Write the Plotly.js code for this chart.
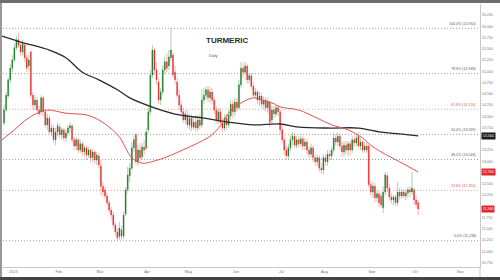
<!DOCTYPE html>
<html>
<head>
<meta charset="utf-8">
<script src="https://cdn.plot.ly/plotly-3.0.1.min.js"></script>
<style>html,body{margin:0;padding:0;background:#fff;}#chart{width:500px;height:280px;}</style>
</head>
<body>
<div id="chart"></div>
<script>
// ---------- data ----------
const firstTradingDay = '2022-12-26';

const opens = [13850,14140,14450,14810,15070,15250,15520,15700,15580,15430,
15580,15300,15120,15430,14470,14250,14360,14140,14100,14410,
14100,13810,13960,13650,13740,13480,13650,13760,13590,13700,
13520,13630,13740,13790,13480,13340,13480,13250,13390,13210,
13300,13140,13250,13080,13210,13030,13120,12900,12450,12370,
12230,12080,11920,11810,11590,11430,11340,11480,11340,11830,
12370,12680,12850,13300,13590,12990,13250,13100,13320,13300,
13700,14100,14920,15470,15030,14760,14360,14540,15030,15210,
15120,15300,15360,14980,14760,14470,14250,14100,13920,14030,
13810,13960,13760,13870,13740,13920,13810,14360,14470,14590,
14410,14540,14360,14140,13920,14100,13870,13740,13960,13810,
14010,14270,14100,14320,14190,14700,15070,14980,15120,14810,
14900,14670,14470,14540,14360,14450,14270,14360,14190,14320,
13920,14140,14050,14190,14100,13700,13480,13250,13120,13300,
13480,13560,13360,13480,13390,13500,13340,13430,13250,13160,
13300,13080,12990,13080,12850,12810,13080,12990,13160,13120,
13250,13520,13430,13560,13340,13210,13360,13250,13390,13250,
13480,13410,13560,13340,13430,13250,13340,13340,12480,12320,
12450,12190,12280,12230,11970,12320,12680,12410,12210,12140,
12210,12080,12320,12230,12320,12230,12300,12370,12320,12370,
12140,12080];

const highs = [14250,14540,14870,15160,15360,15610,15780,15850,15650,15700,
15630,15360,15360,15470,14540,14470,14430,14230,14470,14450,
14140,14050,14030,13830,13810,13740,13870,13830,13760,13740,
13700,13810,13870,13830,13540,13540,13520,13480,13450,13360,
13360,13320,13300,13280,13250,13210,13190,13030,12540,12450,
12300,12140,11990,11880,11650,11520,11650,11570,11880,12430,
12880,12960,13430,13590,13630,13360,13410,13410,13480,13740,
14190,15030,15580,15520,15210,14850,14630,15140,15320,15410,
15470,15954,15430,15120,14850,14590,14360,14190,14140,14140,
14050,14050,13960,14030,14010,14050,14590,14630,14670,14670,
14650,14630,14430,14230,14190,14190,13960,14050,14050,14140,
14360,14360,14410,14410,14810,15210,15180,15210,15160,14960,
14960,14760,14630,14590,14540,14520,14430,14430,14410,14360,
14230,14230,14250,14250,14140,13790,13540,13340,13390,13590,
13650,13630,13560,13560,13560,13560,13520,13500,13340,13390,
13360,13160,13140,13140,12960,13160,13160,13250,13250,13320,
13630,13610,13650,13610,13430,13450,13450,13450,13450,13560,
13560,13610,13650,13520,13480,13430,13430,13390,12590,12540,
12520,12370,12340,12300,12450,12770,12740,12500,12300,12250,
12250,12540,12410,12390,12390,12370,12430,12450,12770,12430,
12230,12140];

const lows = [13810,14100,14410,14740,14980,15210,15470,15520,15340,15360,
15210,14980,15030,14410,14140,14140,14100,13990,14030,14010,
13740,13700,13610,13560,13410,13360,13560,13520,13480,13430,
13450,13560,13630,13410,13250,13250,13190,13190,13120,13100,
13030,13080,12990,12990,12940,12920,12850,12250,12230,12170,
12010,11850,11700,11520,11340,11238,11260,11260,11280,11790,
12300,12540,12810,13210,12920,12900,12990,13030,13140,13250,
13630,14030,14850,14920,14700,14270,14250,14470,14940,14980,
15030,15210,14850,14720,14410,14140,14010,13850,13830,13740,
13700,13670,13700,13650,13670,13700,13740,14270,14360,14320,
14300,14270,14050,13830,13830,13790,13650,13670,13700,13740,
13920,13960,14010,14100,14140,14630,14850,14900,14720,14720,
14590,14410,14390,14270,14230,14190,14140,14100,14070,13760,
13830,13960,13990,14010,13610,13390,13140,13030,13050,13230,
13360,13300,13280,13300,13320,13250,13250,13160,13080,13080,
12990,12900,12900,12770,12720,12720,12900,12900,13030,13030,
13190,13340,13340,13250,13100,13120,13160,13120,13140,13190,
13320,13340,13300,13250,13190,13190,13190,12410,12230,12190,
12080,12100,11990,11970,11850,12250,12320,12120,12050,12030,
12010,12010,12140,12170,12170,12140,12190,12210,12250,12030,
11970,11810];

const closes = [14140,14470,14810,15070,15250,15520,15700,15580,15430,15610,
15300,15070,15250,14470,14250,14360,14140,14050,14410,14100,
13810,13960,13650,13740,13480,13650,13790,13590,13700,13520,
13630,13740,13790,13480,13340,13480,13250,13390,13210,13300,
13140,13250,13080,13210,13030,13140,12920,12450,12320,12230,
12080,11920,11810,11590,11430,11300,11520,11340,11810,12370,
12700,12850,13300,13480,12990,13250,13080,13320,13250,13650,
14100,14920,15470,15030,14810,14360,14540,15030,15210,15070,
15320,15470,14920,14810,14470,14250,14100,13920,14050,13810,
13960,13760,13870,13740,13920,13790,14360,14470,14590,14410,
14540,14360,14140,13920,14100,13870,13740,13960,13810,14030,
14270,14100,14320,14190,14700,15070,14980,15120,14810,14900,
14670,14470,14540,14360,14450,14270,14360,14190,14320,13870,
14140,14050,14190,14100,13700,13480,13250,13120,13300,13480,
13560,13360,13480,13390,13500,13340,13430,13250,13160,13300,
13080,12990,13080,12850,12810,13080,12990,13160,13120,13250,
13520,13430,13560,13340,13210,13360,13250,13390,13250,13480,
13410,13520,13340,13430,13250,13340,13250,12480,12320,12450,
12190,12280,12080,12030,12320,12700,12410,12210,12140,12210,
12080,12320,12230,12320,12230,12300,12370,12320,12410,12140,
12050,11940];

// 200-day simple moving average (black line), read at sample dates
const smaDates = ['2022-12-23','2023-01-05','2023-01-25','2023-02-06','2023-02-16','2023-02-28',
'2023-03-13','2023-03-21','2023-04-06','2023-04-24','2023-05-10','2023-05-26','2023-06-13',
'2023-06-30','2023-07-13','2023-08-04','2023-08-23','2023-09-07','2023-09-20','2023-10-03'];
const smaValues = [15780,15650,15470,15300,14980,14810,14590,14410,14190,14030,13960,13870,13810,
13830,13760,13740,13740,13650,13610,13564];

// short exponential moving average (red line), read at sample dates
const emaDates = ['2022-12-23','2023-01-02','2023-01-09','2023-01-17','2023-01-24','2023-02-06',
'2023-02-20','2023-02-28','2023-03-07','2023-03-14','2023-03-22','2023-03-29','2023-04-06',
'2023-04-14','2023-04-28','2023-05-08','2023-05-15','2023-05-22','2023-05-26','2023-06-02',
'2023-06-13','2023-06-19','2023-06-26','2023-06-30','2023-07-13','2023-07-26','2023-08-04',
'2023-08-16','2023-08-25','2023-08-31','2023-09-07','2023-09-20','2023-10-03'];
const emaValues = [13480,13700,13900,14070,14140,14070,14030,13920,13760,13540,13080,12960,13010,
13100,13300,13430,13560,13790,14070,14270,14410,14360,14300,14210,14140,13960,13810,
13700,13520,13360,13210,12990,12764];

// Fibonacci retracement levels
const fibLabels = ['100.0% (15,954)','78.6% (14,948)','61.8% (14,156)','50.0% (13,599)',
'38.2% (13,043)','23.6% (12,355)','0.0% (11,238)'];
const fibLevels = [15954,14948,14156,13599,13043,12355,11238];

// x-axis month ticks
const monthTickDates = ['2023-01-02','2023-02-01','2023-03-01','2023-04-03','2023-05-01','2023-06-01',
'2023-07-03','2023-08-01','2023-09-01','2023-10-02','2023-11-01'];
const monthTickLabels = ['2023','Feb','Mar','Apr','May','Jun','Jul','Aug','Sep','Oct','Nov'];

// price-axis tick values (every 250)
const priceTicks = [10750,11000,11250,11500,11750,12000,12250,12500,12750,13000,13250,13500,
13750,14000,14250,14500,14750,15000,15250,15500,15750,16000,16250];

// ---------- build ----------
function tradingDays(start, n) {
  const out = [];
  const d = new Date(start + 'T12:00:00Z');
  while (out.length < n) {
    const wd = d.getUTCDay();
    if (wd !== 0 && wd !== 6) out.push(d.toISOString().slice(0, 10) + ' 12:00');
    d.setUTCDate(d.getUTCDate() + 1);
  }
  return out;
}
const dates = tradingDays(firstTradingDay, closes.length);
const noon = a => a.map(s => s + ' 12:00');

const fibStyle = ['grey','grey','red','grey','grey','red','grey'];
const styleColors = {
  grey: {line: '#9a9a9a', text: '#5a5a5a'},
  red:  {line: '#eaa2a2', text: '#e05a5a'}
};

const traces = [
  { type: 'candlestick', x: dates, open: opens, high: highs, low: lows, close: closes,
    increasing: {line: {color: 'rgba(70,150,80,0.45)', width: 1}, fillcolor: 'rgba(70,150,80,0.45)'},
    decreasing: {line: {color: 'rgba(235,100,100,0.45)', width: 1}, fillcolor: 'rgba(235,100,100,0.45)'},
    hoverinfo: 'skip', showlegend: false },
  { type: 'candlestick', x: dates, open: opens, high: highs, low: lows, close: closes,
    increasing: {line: {color: '#1e7a2c', width: 0}, fillcolor: '#1e7a2c'},
    decreasing: {line: {color: '#e12a2a', width: 0}, fillcolor: '#e12a2a'},
    hoverinfo: 'skip', showlegend: false },
  { type: 'scatter', mode: 'lines', x: noon(smaDates), y: smaValues,
    line: {color: '#2a2a2a', width: 1.3, shape: 'spline', smoothing: 1}, hoverinfo: 'skip' },
  { type: 'scatter', mode: 'lines', x: noon(emaDates), y: emaValues,
    line: {color: '#e0514f', width: 1, shape: 'spline', smoothing: 1}, hoverinfo: 'skip' }
];

const shapes = [];
const annotations = [];
fibLevels.forEach((lv, i) => {
  const st = styleColors[fibStyle[i]];
  shapes.push({type: 'line', xref: 'paper', yref: 'y', x0: 0.002, x1: 0.996, y0: lv, y1: lv,
    line: {color: st.line, width: 1, dash: '1px,2px'}, layer: 'below'});
  annotations.push({xref: 'paper', yref: 'y', x: 0.9958, y: lv, xanchor: 'right', yanchor: 'bottom',
    yshift: 0.5, text: fibLabels[i], showarrow: false, font: {size: 3.6, color: st.text}});
});

// frame
shapes.push({type: 'rect', xref: 'paper', yref: 'paper', x0: -0.01, x1: 1.06, y0: 1.0038, y1: 1.02,
  fillcolor: '#6e6e6e', line: {width: 0}});
shapes.push({type: 'rect', xref: 'paper', yref: 'paper', x0: -0.01, x1: 1.06, y0: -0.07, y1: -0.038,
  fillcolor: '#454545', line: {width: 0}});
shapes.push({type: 'line', xref: 'paper', yref: 'paper', x0: -0.0021, x1: -0.0021, y0: -0.038, y1: 1.0038,
  line: {color: '#333', width: 1}});
shapes.push({type: 'line', xref: 'paper', yref: 'paper', x0: 1, x1: 1, y0: -0.038, y1: 0,
  line: {color: '#c8c8c8', width: 1}});

// title texts
annotations.push({xref: 'paper', yref: 'paper', x: 0.4707, y: 0.8631, xanchor: 'center', yanchor: 'middle',
  text: '<b>TURMERIC</b>', showarrow: false, font: {size: 8, color: '#2c2c2c'}});
annotations.push({xref: 'paper', yref: 'paper', x: 0.4425, y: 0.8004, xanchor: 'center', yanchor: 'middle',
  text: 'Daily', showarrow: false, font: {size: 3.8, color: '#555'}});

// value boxes on the price axis (they cover the tick labels beneath them, as in the reference)
const fmt = v => Math.round(v).toLocaleString('en-US');
const boxes = [
  {v: smaValues[smaValues.length - 1], bg: '#1a1a1a'},
  {v: emaValues[emaValues.length - 1], bg: '#e0282a'},
  {v: closes[closes.length - 1], bg: '#e0282a'}
];
boxes.forEach(b => annotations.push({xref: 'paper', yref: 'y', x: 1, y: b.v, xanchor: 'left', yanchor: 'middle',
  xshift: 1, text: fmt(b.v), showarrow: false, bgcolor: b.bg, borderpad: 0.8,
  font: {size: 3.6, color: '#fff'}}));
const shownTicks = priceTicks.filter(t => boxes.every(b => Math.abs(b.v - t) > 120));

const layout = {
  width: 500, height: 280,
  margin: {l: 2, r: 20, t: 4, b: 13, pad: 0},
  paper_bgcolor: '#fff', plot_bgcolor: '#fff',
  showlegend: false,
  font: {family: 'Liberation Sans, Arial, sans-serif'},
  xaxis: {
    type: 'date',
    range: ['2022-12-23 12:00', '2023-11-14 12:00'],
    rangebreaks: [{bounds: ['sat', 'mon']}],
    rangeslider: {visible: false},
    tickmode: 'array', tickvals: monthTickDates, ticktext: monthTickLabels,
    tickfont: {size: 3.8, color: '#777'},
    showgrid: false, zeroline: false, showline: true, linecolor: '#c8c8c8', linewidth: 1, ticks: ''
  },
  yaxis: {
    side: 'right',
    range: [10655, 16494],
    tickmode: 'array', tickvals: shownTicks, ticktext: shownTicks.map(fmt),
    tickfont: {size: 3.6, color: '#777'},
    showgrid: false, zeroline: false, showline: true, linecolor: '#c8c8c8', linewidth: 1, ticks: ''
  },
  shapes: shapes,
  annotations: annotations
};

Plotly.newPlot('chart', traces, layout, {staticPlot: true, displayModeBar: false});
</script>
</body>
</html>
